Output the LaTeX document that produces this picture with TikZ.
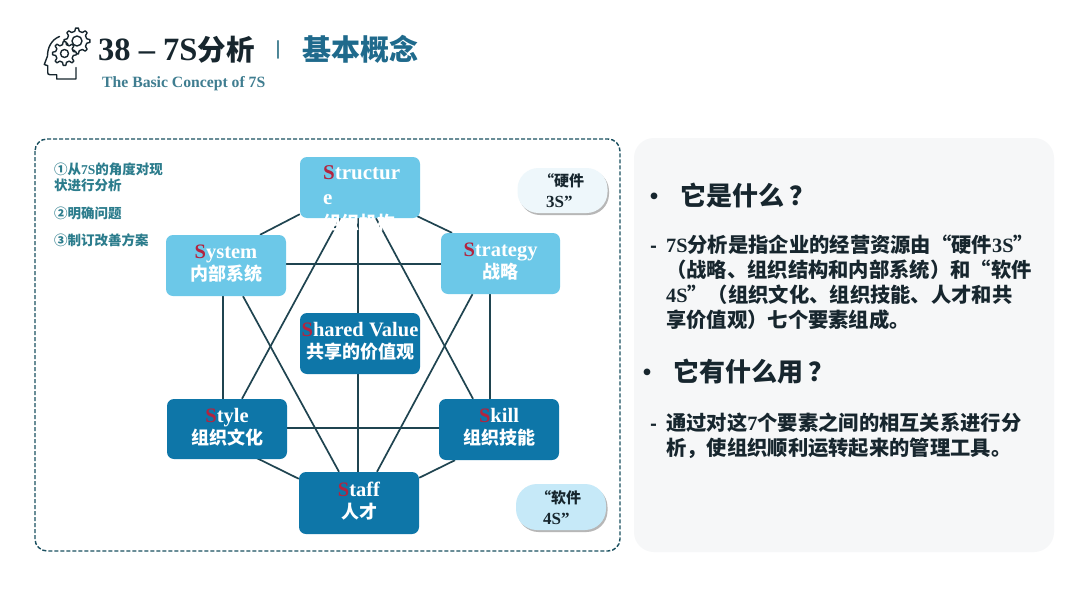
\documentclass[tikz,border=0pt]{standalone}
\usepackage{fontspec}
\setmainfont{Noto Sans CJK SC}
\newfontfamily\ser{Liberation Serif}
\usetikzlibrary{backgrounds,shadows,calc}
\newcommand{\lat}[1]{{\ser\bfseries #1}}
\newcommand{\fsz}[2]{\fontsize{#1pt}{#2pt}\selectfont\bfseries}
\definecolor{ink}{HTML}{17262E}
\definecolor{tealdk}{HTML}{1F6A8C}
\definecolor{tealsub}{HTML}{3F7D90}
\definecolor{listc}{HTML}{2B7C8C}
\definecolor{dashc}{HTML}{1A5060}
\definecolor{lightb}{HTML}{6CC8E8}
\definecolor{darkb}{HTML}{0E76A8}
\definecolor{linec}{HTML}{1F4450}
\definecolor{sred}{HTML}{B3243F}
\definecolor{panel}{HTML}{F6F7F8}
\definecolor{pilla}{HTML}{EEF7FB}
\definecolor{pillb}{HTML}{C6E9F8}
\newcommand{\rs}{\textcolor{sred}{S}}
% latin line, chinese line, raise
\newcommand{\blocktext}[3]{\raisebox{#3pt}{\begin{tabular}{@{}c@{}}\fontsize{20.5}{21}\selectfont\lat{#1}\\#2\end{tabular}}}
\tikzset{
  blockbase/.style={rounded corners=7pt,minimum width=120pt,minimum height=61pt,inner sep=0pt,text=white,align=center,font=\fsz{18}{21}},
  lightblock/.style={blockbase,fill=lightb},
  darkblock/.style={blockbase,fill=darkb},
  link/.style={draw=linec,line width=1.7pt},
  pill/.style={rounded corners=21pt,minimum width=90pt,minimum height=45pt,inner sep=0pt,drop shadow={shadow xshift=1.5pt,shadow yshift=-2pt,opacity=.4,fill=black!70}},
  txt/.style={anchor=base west,inner sep=0pt,text=ink,align=left},
  iconline/.style={draw=ink,line width=1.4pt,line join=round,line cap=round},
}
\newcommand{\gear}[5]{% cx cy Router Rinner fill
  \draw[iconline,fill=#5] ($(#1,#2)+(-6:#3)$)
  \foreach \a in {0,45,...,315}{
    -- ($(#1,#2)+(\a+6:#3)$) -- ($(#1,#2)+(\a+13:#4)$) -- ($(#1,#2)+(\a+32:#4)$) -- ($(#1,#2)+(\a+39:#3)$)
  } -- cycle;
}
\begin{document}
\begin{tikzpicture}[x=1pt,y=-1pt]
\useasboundingbox (0,0) rectangle (1080,608);
\begin{pgfonlayer}{background}
\fill[white] (0,0) rectangle (1080,608);
\end{pgfonlayer}

% header icon
\draw[iconline] (59.5,36.5) .. controls (51,40) and (47.5,48) .. (47.5,56) -- (44.3,64.5) -- (47.7,65.7) -- (47.7,72.5) .. controls (47.7,74) and (48.5,74.7) .. (50,74.7) -- (56.7,74.7) -- (56.7,79) -- (76,79) -- (76,67.5);
\gear{77}{41}{13}{10}{white}
\draw[iconline] (77,41) circle (5);
\gear{64.5}{53.5}{12}{9}{white}
\draw[iconline] (64.5,53.5) circle (4);

% header text
\node[txt,font=\fsz{28.5}{32}] (title) at (98,60) {\fontsize{32.5}{32}\selectfont\lat{38 – 7S}\fontsize{28.5}{32}\selectfont 分析};
\node[anchor=center,inner sep=0pt,text=tealsub,font=\fsz{16}{18}] (sep) at (278,50) {|};
\node[txt,text=tealdk,font=\fsz{29}{32}] (concept) at (302,60) {基本概念};
\node[txt,text=tealsub,font=\fsz{15.7}{18}] (subtitle) at (102,87) {\lat{The Basic Concept of 7S}};

% frames
\draw[draw=dashc,line width=1.4pt,dash pattern=on 4pt off 2pt,rounded corners=12pt] (35,139) rectangle (620,551);
\fill[panel,rounded corners=20pt] (634,138) rectangle (1054,552);

% left list
\node[txt,text=listc,font=\fsz{13.5}{16}] (item1) at (54,190.5) {①从\lat{7S}的角度对现\\状进行分析};
\node[txt,text=listc,font=\fsz{13.5}{16}] (item2) at (54,218.5) {②明确问题};
\node[txt,text=listc,font=\fsz{13.5}{16}] (item3) at (54,245.5) {③制订改善方案};

% blocks
\node[lightblock] (structure) at (360,187.5) {};
\node[txt,text=white,font=\fsz{18}{25}] (structuretext) at (323,229) {\fontsize{21}{25}\selectfont\lat{\rs tructur}\\\fontsize{21}{25}\selectfont\lat{e}\\组织机构};
\node[lightblock] (system) at (226,265.5) {\blocktext{\rs ystem}{内部系统}{0}};
\node[lightblock,minimum width=119pt] (strategy) at (500.5,263.5) {\blocktext{\rs trategy}{战略}{-1.5}};
\node[darkblock] (shared) at (360,343.5) {\blocktext{\rs hared Value}{共享的价值观}{2.5}};
\node[darkblock,minimum height=60pt] (style) at (227,429) {\blocktext{\rs tyle}{组织文化}{2.5}};
\node[darkblock] (skill) at (499,429.5) {\blocktext{\rs kill}{组织技能}{2}};
\node[darkblock,minimum height=62pt] (staff) at (359,503) {\blocktext{\rs taff}{人才}{2}};

% connectors
\begin{pgfonlayer}{background}
\draw[link] ([yshift=4pt]structure.south west) -- ([xshift=34pt]system.north);
\draw[link] ([xshift=-3pt,yshift=2pt]structure.south east) -- ([xshift=-48.5pt]strategy.north);
\draw[link] ([xshift=-3pt]system.south) -- ([xshift=-4pt]style.north);
\draw[link] ([xshift=-10.5pt]strategy.south) -- ([xshift=-9pt]skill.north);
\draw[link] ([xshift=30pt,yshift=1pt]style.south) -- ([yshift=-7pt]staff.north west);
\draw[link] ([xshift=-44pt]skill.south) -- ([yshift=-6pt]staff.north east);
\draw[link] ([yshift=-0.5pt]system.east |- strategy.west) -- ([yshift=-0.5pt]strategy.west);
\draw[link] ([yshift=1pt]style.east) -- ([yshift=1pt]style.east -| skill.west);
\draw[link] ([xshift=-2pt]structure.south) -- ([xshift=-2pt]shared.north);
\draw[link] ([xshift=-2pt]shared.south) -- ([xshift=-1pt]staff.north);
\draw[link] ([xshift=-20pt]structure.south) -- ([xshift=15pt]style.north);
\draw[link] ([xshift=16pt]structure.south) -- ([xshift=-26pt]skill.north);
\draw[link] ([xshift=17pt]system.south) -- ([xshift=-20pt]staff.north);
\draw[link] ([xshift=-28pt]strategy.south) -- ([xshift=18pt]staff.north);
\end{pgfonlayer}

% pills
\node[pill,fill=pilla] (hard) at (562.5,190.5) {};
\node[txt,font=\fsz{15}{21}] (hardtext) at (539,207) {“硬件\\\hspace*{7pt}\fontsize{17}{21}\selectfont\lat{3S”}};
\node[pill,fill=pillb,minimum height=46pt] (soft) at (561,507) {};
\node[txt,font=\fsz{15}{21}] (softtext) at (536,524) {“软件\\\hspace*{7pt}\fontsize{17}{21}\selectfont\lat{4S”}};

% right panel text
\node[txt,font=\fsz{24}{28}] (bullet1) at (642,205) {•};
\node[txt,font=\fsz{26}{30}] (head1) at (680,205) {它是什么\hspace{5pt}？};
\node[txt,font=\fsz{18}{24}] (dash1) at (650,252) {-};
\node[txt,font=\fsz{20.3}{25}] (para1) at (666,327) {\lat{7S}分析是指企业的经营资源由“硬件\lat{3S}”\\（战略、组织结构和内部系统）和“软件\\\lat{4S}”（组织文化、组织技能、人才和共\\享价值观）七个要素组成。};
\node[txt,font=\fsz{24}{28}] (bullet2) at (635,381) {•};
\node[txt,font=\fsz{26}{30}] (head2) at (673,381) {它有什么用\hspace{5pt}？};
\node[txt,font=\fsz{18}{24}] (dash2) at (650,430) {-};
\node[txt,font=\fsz{20.3}{25}] (para2) at (666,455) {通过对这\lat{7}个要素之间的相互关系进行分\\析，使组织顺利运转起来的管理工具。};
\end{tikzpicture}
\end{document}
